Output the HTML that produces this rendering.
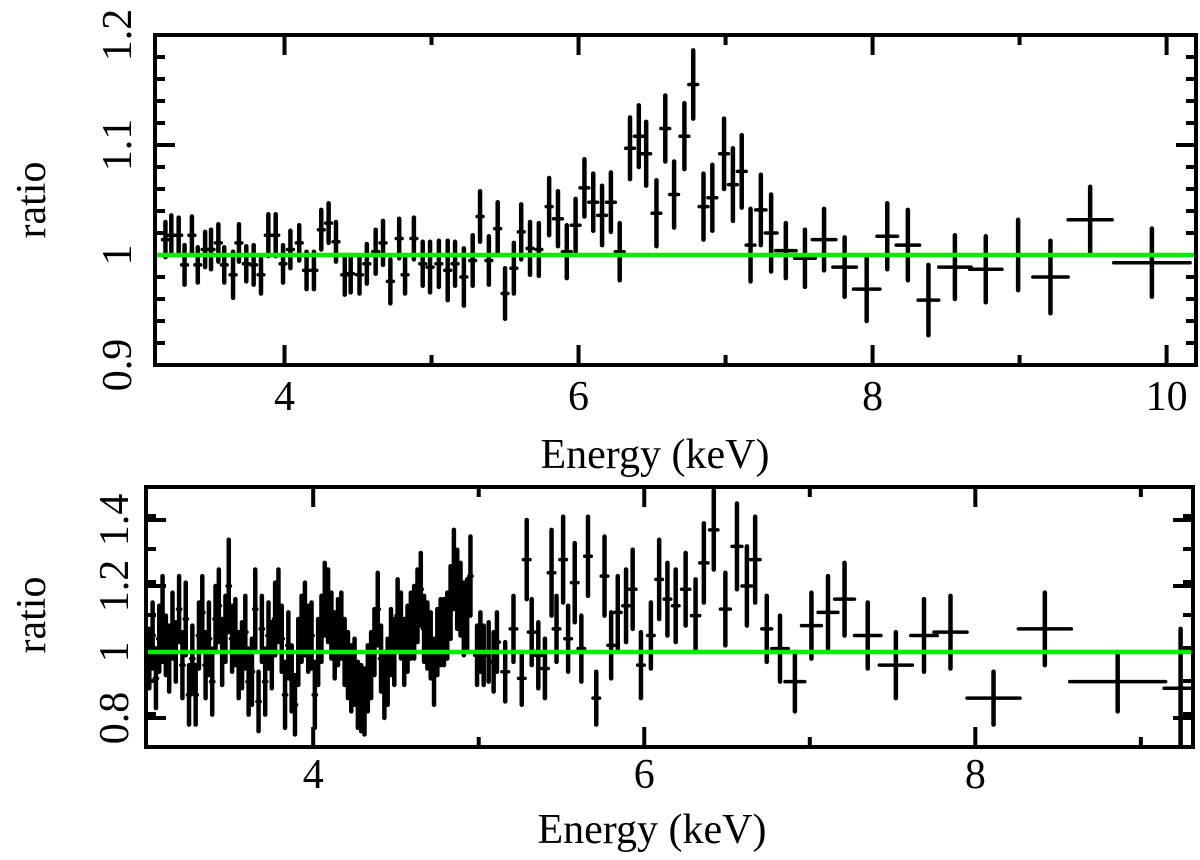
<!DOCTYPE html>
<html><head><meta charset="utf-8"><style>
html,body{margin:0;padding:0;background:#fff;}
svg{display:block;}
text{font-family:"Liberation Serif","DejaVu Serif",serif;font-size:42px;fill:#000;}
</style></head><body>
<svg id="chart" width="1200" height="860" viewBox="0 0 1200 860" xmlns="http://www.w3.org/2000/svg"></svg>
<script>
// ---------- TOP PANEL DATA ----------
const topEnergy = [3.19,3.23,3.28,3.32,3.37,3.41,3.46,3.50,3.55,3.59,3.65,3.69,3.74,3.79,3.84,3.89,3.94,3.99,4.04,4.10,4.15,4.20,4.25,4.30,4.35,4.41,4.45,4.51,4.56,4.62,4.67,4.72,4.78,4.82,4.88,4.94,4.99,5.05,5.11,5.16,5.22,5.28,5.33,5.39,5.45,5.50,5.56,5.61,5.67,5.73,5.80,5.86,
 5.92,5.98,6.04,6.10,6.16,6.22,6.28,6.35,6.41,6.46,6.53,6.59,6.65,6.72,6.78,6.85,6.91,6.99,7.05,7.11,7.17,7.24,7.31,7.41,7.54,7.67,7.81,7.96,
 8.10,8.24,8.38,8.56,8.77,8.99,9.21,9.48,9.90];
const topRatio = [1.014,1.018,1.018,0.991,1.018,0.991,1.005,1.005,1.011,0.991,0.982,1.011,0.992,0.991,0.982,1.018,1.018,0.992,1.005,1.011,0.986,0.986,1.023,1.029,1.012,0.982,0.983,0.982,0.992,1.003,1.011,0.976,1.015,0.982,1.015,0.992,0.989,0.992,0.986,0.992,0.980,0.995,1.035,0.995,1.024,0.965,0.988,1.021,1.006,1.005,1.044,1.033,
 1.003,1.027,1.061,1.048,1.036,1.048,1.003,1.097,1.108,1.092,1.038,1.115,1.055,1.108,1.155,1.044,1.052,1.092,1.064,1.076,1.009,1.041,1.020,1.004,0.997,1.014,0.989,0.969,
 1.017,1.009,0.959,0.989,0.987,1.000,0.980,1.032,0.993];
const topErr = [0.016,0.018,0.016,0.018,0.017,0.016,0.016,0.018,0.017,0.016,0.021,0.017,0.016,0.018,0.017,0.019,0.019,0.017,0.017,0.016,0.017,0.017,0.018,0.018,0.018,0.018,0.017,0.017,0.018,0.020,0.020,0.020,0.018,0.017,0.019,0.020,0.023,0.021,0.027,0.020,0.026,0.023,0.023,0.022,0.024,0.023,0.023,0.025,0.024,0.024,0.026,0.025,
 0.024,0.024,0.026,0.026,0.027,0.027,0.026,0.028,0.028,0.029,0.030,0.030,0.030,0.030,0.031,0.030,0.030,0.032,0.033,0.033,0.033,0.032,0.035,0.025,0.026,0.028,0.027,0.029,
 0.030,0.032,0.032,0.029,0.030,0.032,0.033,0.030,0.031];
const topHalfWidth = [0.02,0.02,0.02,0.02,0.02,0.02,0.02,0.02,0.02,0.02,0.02,0.02,0.02,0.02,0.02,0.02,0.02,0.02,0.02,0.02,0.02,0.02,0.02,0.02,0.02,0.02,0.02,0.02,0.02,0.02,0.02,0.02,0.02,0.02,0.02,0.02,0.02,0.02,0.02,0.02,0.02,0.02,0.02,0.02,0.02,0.02,0.02,0.02,0.02,0.02,0.02,0.03,
 0.03,0.03,0.03,0.03,0.03,0.03,0.03,0.03,0.03,0.03,0.03,0.03,0.03,0.03,0.03,0.03,0.03,0.03,0.03,0.03,0.03,0.035,0.04,0.07,0.07,0.08,0.08,0.09,
 0.07,0.08,0.07,0.11,0.11,0.06,0.12,0.15,0.26];
const topXTicks = [4,6,8,10];
const topXMinor = [5,7,9];
const topYTicks = [0.9,1,1.1,1.2];
const topYTickLabels = ["0.9","1","1.1","1.2"];

// ---------- BOTTOM PANEL DATA ----------
const botEnergy = [3.01,3.03,3.05,3.07,3.09,3.11,3.13,3.15,3.17,3.19,3.21,3.23,3.25,3.27,3.29,3.31,3.33,3.35,3.37,3.39,3.41,3.43,3.45,3.47,3.49,3.51,3.53,3.55,3.57,3.59,3.61,3.63,3.65,3.67,3.69,3.71,3.73,3.75,3.77,3.79,3.81,3.83,3.85,3.87,3.89,3.91,3.93,3.95,3.97,3.99,4.01,4.03,4.05,4.07,4.09,4.11,4.13,4.15,4.17,4.19,4.21,4.23,4.25,4.27,4.29,4.31,4.33,4.35,4.37,4.39,4.41,4.43,4.45,4.47,4.49,4.51,4.53,4.55,4.57,4.59,4.61,4.63,4.65,4.67,4.69,4.71,4.73,4.75,4.77,4.79,4.81,4.83,4.85,4.87,4.89,4.91,4.93,4.95,4.99,5.01,5.03,5.06,5.09,5.11,
 5.16,5.21,5.26,5.29,5.32,5.36,5.40,5.44,5.47,5.51,5.54,5.58,5.62,5.66,5.71,5.76,5.80,5.84,5.89,5.93,5.98,6.04,6.09,6.14,6.19,6.25,6.31,6.36,6.42,6.49,6.56,6.62,6.67,6.74,6.82,6.91,7.01,7.11,7.21,
 7.35,7.52,7.69,7.85,8.11,8.42,8.86,9.24];
const botRatio = [0.98,1.05,0.92,1.04,1.10,1.02,0.98,1.08,1.00,1.13,0.96,1.10,0.87,0.98,0.87,1.05,1.12,0.96,1.04,0.91,1.10,1.14,1.00,1.07,1.20,1.04,1.06,0.96,0.99,1.06,0.91,0.94,1.13,0.85,1.07,0.91,1.05,0.99,1.10,1.14,1.04,0.87,1.02,0.92,0.84,1.00,1.07,1.10,1.04,1.05,0.87,1.00,1.07,1.16,1.14,1.08,1.02,1.06,1.08,1.00,0.96,0.92,0.94,0.87,0.86,0.85,0.92,0.96,1.03,1.13,0.98,0.90,0.94,1.03,1.00,1.11,1.08,1.00,1.04,1.08,1.09,1.14,1.19,1.07,1.05,1.02,0.94,1.03,1.06,1.06,1.08,1.15,1.25,1.19,1.16,1.10,1.11,1.23,0.99,1.03,0.99,1.00,0.97,1.03,
 0.94,1.07,0.92,1.28,1.06,0.99,0.95,1.24,1.07,1.28,1.04,1.21,1.01,1.29,0.86,1.23,1.02,1.12,1.14,1.19,0.96,1.05,1.22,1.16,1.14,1.19,1.11,1.27,1.37,1.13,1.32,1.20,1.28,1.07,1.01,0.91,1.08,1.12,1.16,
 1.05,0.96,1.05,1.06,0.86,1.07,0.91,0.89];
const botErr = [0.09,0.10,0.09,0.10,0.13,0.09,0.10,0.10,0.09,0.10,0.10,0.11,0.09,0.10,0.09,0.10,0.11,0.10,0.11,0.10,0.10,0.11,0.10,0.10,0.14,0.10,0.10,0.10,0.10,0.11,0.10,0.10,0.12,0.09,0.10,0.10,0.10,0.10,0.11,0.11,0.10,0.10,0.10,0.10,0.09,0.10,0.10,0.11,0.10,0.10,0.10,0.10,0.10,0.11,0.11,0.10,0.10,0.10,0.10,0.10,0.10,0.10,0.10,0.10,0.10,0.10,0.10,0.10,0.10,0.11,0.10,0.10,0.10,0.10,0.10,0.11,0.10,0.10,0.10,0.10,0.11,0.11,0.11,0.10,0.10,0.10,0.10,0.10,0.10,0.10,0.10,0.11,0.12,0.12,0.11,0.11,0.11,0.12,0.09,0.09,0.09,0.09,0.09,0.09,
 0.09,0.10,0.08,0.12,0.10,0.10,0.09,0.13,0.10,0.13,0.10,0.12,0.10,0.12,0.08,0.12,0.10,0.11,0.11,0.12,0.10,0.10,0.12,0.11,0.11,0.11,0.11,0.12,0.12,0.11,0.13,0.12,0.13,0.10,0.10,0.09,0.10,0.11,0.11,
 0.10,0.10,0.11,0.11,0.08,0.11,0.09,0.18];
const botHalfWidth = [0.01,0.01,0.01,0.01,0.01,0.01,0.01,0.01,0.01,0.01,0.01,0.01,0.01,0.01,0.01,0.01,0.01,0.01,0.01,0.01,0.01,0.01,0.01,0.01,0.01,0.01,0.01,0.01,0.01,0.01,0.01,0.01,0.01,0.01,0.01,0.01,0.01,0.01,0.01,0.01,0.01,0.01,0.01,0.01,0.01,0.01,0.01,0.01,0.01,0.01,0.01,0.01,0.01,0.01,0.01,0.01,0.01,0.01,0.01,0.01,0.01,0.01,0.01,0.01,0.01,0.01,0.01,0.01,0.01,0.01,0.01,0.01,0.01,0.01,0.01,0.01,0.01,0.01,0.01,0.01,0.01,0.01,0.01,0.01,0.01,0.01,0.01,0.01,0.01,0.01,0.01,0.01,0.01,0.01,0.01,0.01,0.01,0.01,0.015,0.015,0.015,0.015,0.015,0.015,
 0.02,0.02,0.02,0.02,0.02,0.02,0.02,0.02,0.02,0.02,0.02,0.02,0.02,0.02,0.02,0.02,0.02,0.02,0.02,0.02,0.02,0.02,0.02,0.02,0.02,0.025,0.025,0.025,0.025,0.03,0.03,0.03,0.03,0.03,0.05,0.06,0.06,0.06,0.06,
 0.08,0.10,0.08,0.10,0.16,0.16,0.29,0.1];
const botXTicks = [4,6,8];
const botXMinor = [5,7,9];
const botYTicks = [0.8,1,1.2,1.4];
const botYTickLabels = ["0.8","1","1.2","1.4"];

const NS = "http://www.w3.org/2000/svg";
const svg = document.getElementById('chart');
function mk(tag, attrs, parent){
  const e = document.createElementNS(NS, tag);
  for (const k in attrs) e.setAttribute(k, attrs[k]);
  (parent||svg).appendChild(e);
  return e;
}

function panel(cfg){
  const g = mk('g', {});
  
  
  const L=cfg.left,R=cfg.right,T=cfg.top,B=cfg.bottom;
  const sx = e => L + (e-cfg.xmin)/(cfg.xmax-cfg.xmin)*(R-L);
  const sy = v => B - (v-cfg.ymin)/(cfg.ymax-cfg.ymin)*(B-T);
  const clipId = cfg.name + '-clip';
  const defs = mk('defs', {}, g);
  const cp = mk('clipPath', {id: clipId}, defs);
  mk('rect', {x:L, y:T, width:R-L, height:B-T}, cp);

  const dg = mk('g', {'clip-path':'url(#'+clipId+')'}, g);
  
  
  for (let i=0;i<cfg.E.length;i++){
    const x = sx(cfg.E[i]), y = sy(cfg.V[i]);
    const pt = mk('g', {}, dg);
    
    
    mk('line', {x1:x, x2:x, y1:sy(cfg.V[i]-cfg.Er[i]), y2:sy(cfg.V[i]+cfg.Er[i]), stroke:'#000','stroke-width':cfg.vw,'stroke-linecap':'round'}, pt);
    mk('line', {x1:sx(cfg.E[i]-cfg.HW[i]), x2:sx(cfg.E[i]+cfg.HW[i]), y1:y, y2:y, stroke:'#000','stroke-width':cfg.hw,'stroke-linecap':'round'}, pt);
  }

  const fr = mk('rect', {x:L, y:T, width:R-L, height:B-T, fill:'none', stroke:'#000','stroke-width':4}, g);
  
  

  cfg.xt.forEach(t=>{
    const x=sx(t);
    mk('line',{x1:x,x2:x,y1:B,y2:B-20,stroke:'#000','stroke-width':4},g);
    mk('line',{x1:x,x2:x,y1:T,y2:T+20,stroke:'#000','stroke-width':4},g);
    const tx = mk('text',{x:x,y:cfg.xLabelY,'text-anchor':'middle'},g);
    tx.textContent = String(t);
    
    
  });
  cfg.xm.forEach(t=>{
    const x=sx(t); if (x>R) return;
    mk('line',{x1:x,x2:x,y1:B,y2:B-10,stroke:'#000','stroke-width':4},g);
    mk('line',{x1:x,x2:x,y1:T,y2:T+10,stroke:'#000','stroke-width':4},g);
  });
  for (let v=cfg.ymin; v<=cfg.ymax+1e-9; v+=cfg.yminorStep){
    const y=sy(v); if (y<T+2||y>B-2) continue;
    mk('line',{x1:L,x2:L+10,y1:y,y2:y,stroke:'#000','stroke-width':4},g);
    mk('line',{x1:R,x2:R-10,y1:y,y2:y,stroke:'#000','stroke-width':4},g);
  }
  cfg.yt.forEach((t,i)=>{
    const y=sy(t);
    mk('line',{x1:L,x2:L+20,y1:y,y2:y,stroke:'#000','stroke-width':4},g);
    mk('line',{x1:R,x2:R-20,y1:y,y2:y,stroke:'#000','stroke-width':4},g);
    const tx = mk('text',{x:0,y:0,'text-anchor':'middle',transform:'translate('+(cfg.yLabelX)+','+y+') rotate(-90)'},g);
    tx.textContent = cfg.ytl[i];
    
    
  });

  // model line drawn on top
  const ml = mk('line', {x1:L+2, x2:R-2, y1:sy(1), y2:sy(1), stroke:'#00ee00','stroke-width':4.5}, g);
  
  

  const xt = mk('text',{x:cfg.xTitleX,y:cfg.xTitleY,'text-anchor':'middle'},g);
  xt.textContent = 'Energy (keV)';
  
  
  const yt = mk('text',{x:0,y:0,'text-anchor':'middle',transform:'translate(45,'+cfg.yTitleY+') rotate(-90)'},g);
  yt.textContent = 'ratio';
  
  
}

panel({name:'top-panel', left:155, right:1196, top:35, bottom:365,
  xmin:3.119, xmax:10.2, ymin:0.9, ymax:1.2,
  E:topEnergy, V:topRatio, Er:topErr, HW:topHalfWidth, vw:4.5, hw:3.5,
  xt:topXTicks, xm:topXMinor, yt:topYTicks, ytl:topYTickLabels, yminorStep:0.02,
  xLabelY:410, xTitleX:655, xTitleY:468, yLabelX:131, yTitleY:200});

panel({name:'bottom-panel', left:146, right:1193, top:487, bottom:747,
  xmin:2.99, xmax:9.315, ymin:0.712, ymax:1.5,
  E:botEnergy, V:botRatio, Er:botErr, HW:botHalfWidth, vw:4.5, hw:3.5,
  xt:botXTicks, xm:botXMinor, yt:botYTicks, ytl:botYTickLabels, yminorStep:0.1,
  xLabelY:788, xTitleX:652, xTitleY:843, yLabelX:128, yTitleY:615});
</script>
</body></html>
